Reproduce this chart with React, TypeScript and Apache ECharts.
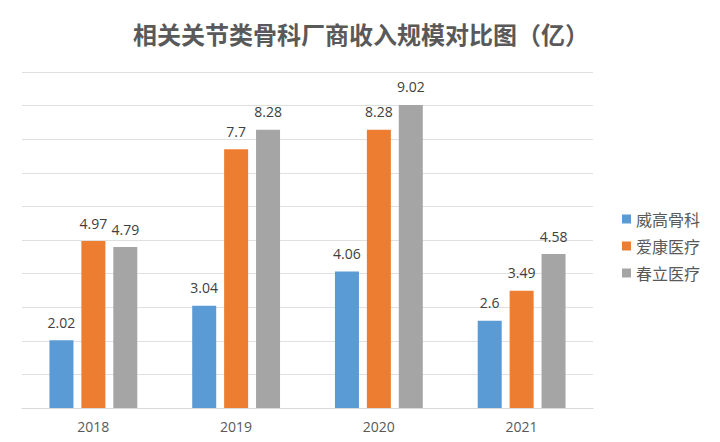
import React, { useEffect, useRef } from "react";
import * as echarts from "echarts";

const categories = ["2018", "2019", "2020", "2021"];
const seriesNames = ["威高骨科", "爱康医疗", "春立医疗"];
const weigao = [2.02, 3.04, 4.06, 2.6];
const aikang = [4.97, 7.7, 8.28, 3.49];
const chunli = [4.79, 8.28, 9.02, 4.58];
const colors = ["#5B9BD5", "#ED7D31", "#A5A5A5"];
const titleText = "相关关节类骨科厂商收入规模对比图（亿）";

export default function App() {
  const ref = useRef<HTMLDivElement>(null);
  useEffect(() => {
    if (!ref.current) return;
    const chart = echarts.init(ref.current, undefined, { renderer: "svg" });
    const font = "'Open Sans', 'Noto Sans CJK SC', sans-serif";
    const values = [weigao, aikang, chunli];
    chart.setOption({
      animation: false,
      backgroundColor: "#ffffff",
      color: colors,
      title: {
        text: titleText,
        left: 356,
        textAlign: "center",
        top: 16,
        textStyle: {
          fontSize: 24,
          fontWeight: "bold",
          color: "#595959",
          fontFamily: "'Noto Sans CJK SC', sans-serif",
        },
      },
      legend: {
        orient: "vertical",
        left: 617,
        top: 206,
        itemWidth: 9,
        itemHeight: 9,
        itemGap: 11,
        icon: "rect",
        textStyle: {
          fontSize: 16,
          color: "#595959",
          fontFamily: "'Noto Sans CJK SC', sans-serif",
        },
        data: seriesNames,
      },
      grid: { left: 22, right: 127, top: 72, bottom: 34, containLabel: false },
      xAxis: {
        type: "category",
        data: categories,
        axisLine: { lineStyle: { color: "#d9d9d9", width: 1 } },
        axisTick: { show: false },
        axisLabel: { fontSize: 14, color: "#595959", fontFamily: font, margin: 11 },
      },
      yAxis: {
        type: "value",
        min: 0,
        max: 10,
        interval: 1,
        axisLabel: { show: false },
        axisLine: { show: false },
        axisTick: { show: false },
        splitLine: { lineStyle: { color: "#e0e0e0", width: 1 } },
      },
      series: seriesNames.map((name, i) => ({
        name,
        type: "bar",
        data: values[i],
        barWidth: 24,
        barGap: "33%",
        itemStyle: { color: colors[i] },
        label: {
          show: true,
          position: "top",
          distance: 11,
          fontSize: 14,
          color: "#404040",
          fontFamily: font,
        },
      })),
    });
    return () => chart.dispose();
  }, []);
  return (
    <div
      ref={ref}
      style={{ position: "fixed", left: 0, top: 0, width: 720, height: 442 }}
    />
  );
}
